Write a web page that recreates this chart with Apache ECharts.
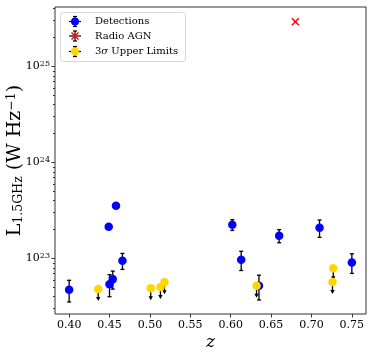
<!DOCTYPE html>
<html>
<head>
<meta charset="utf-8">
<script src="https://cdn.jsdelivr.net/npm/echarts@6/dist/echarts.min.js"></script>
<style>
  html, body { margin: 0; padding: 0; background: #fff; }
  #chart { width: 374px; height: 357px; }
</style>
</head>
<body>
<div id="chart"></div>
<script>
  // detections: redshift, luminosity (W/Hz), 1-sigma error
  const detZ = [0.400, 0.449, 0.458, 0.466, 0.454, 0.450, 0.602, 0.613, 0.635, 0.660, 0.710, 0.750];
  const detL = [4.73e22, 2.14e23, 3.55e23, 9.5e22, 6.1e22, 5.4e22, 2.25e23, 9.7e22, 5.2e22, 1.73e23, 2.09e23, 9.1e22];
  const detErr = [1.2e22, 1.2e22, 2.0e22, 1.8e22, 1.3e22, 1.4e22, 2.9e22, 2.2e22, 1.5e22, 2.7e22, 4.3e22, 2.1e22];

  // 3 sigma upper limits
  const ulZ = [0.436, 0.501, 0.513, 0.518, 0.632, 0.727, 0.726];
  const ulL = [4.8e22, 4.9e22, 5.05e22, 5.65e22, 5.2e22, 7.9e22, 5.7e22];

  // radio AGN
  const agnZ = [0.680];
  const agnL = [2.93e25];

  const xTicks = [0.40, 0.45, 0.50, 0.55, 0.60, 0.65, 0.70, 0.75];
  const yTicks = [1e23, 1e24, 1e25];
  const yMinor = [];
  [22, 23, 24, 25].forEach(function (e) {
    for (let m = 2; m <= 9; m++) yMinor.push(m * Math.pow(10, e));
  });

  const FONT = 'DejaVu Serif';
  const chart = echarts.init(document.getElementById('chart'), null, { renderer: 'canvas' });

  const yMin = Math.pow(10, 22.422);
  const yMax = Math.pow(10, 25.62);

  function errorBars(params, api) {
    const x = api.value(0), y = api.value(1), e = api.value(2);
    const top = api.coord([x, y + e]);
    const bot = api.coord([x, y - e]);
    const st = { stroke: '#000', lineWidth: 1.3 };
    return {
      type: 'group',
      children: [
        { type: 'line', shape: { x1: top[0], y1: top[1], x2: bot[0], y2: bot[1] }, style: st },
        { type: 'line', shape: { x1: top[0] - 2, y1: top[1], x2: top[0] + 2, y2: top[1] }, style: st },
        { type: 'line', shape: { x1: bot[0] - 2, y1: bot[1], x2: bot[0] + 2, y2: bot[1] }, style: st }
      ]
    };
  }

  function limitArrows(params, api) {
    const p = api.coord([api.value(0), api.value(1)]);
    const st = { stroke: '#000', lineWidth: 1.3 };
    return {
      type: 'group',
      children: [
        { type: 'line', shape: { x1: p[0], y1: p[1], x2: p[0], y2: p[1] + 9 }, style: st },
        { type: 'polygon', shape: { points: [[p[0] - 2.2, p[1] + 8], [p[0] + 2.2, p[1] + 8], [p[0], p[1] + 12]] }, style: { fill: '#000' } }
      ]
    };
  }

  function cross(params, api) {
    const p = api.coord([api.value(0), api.value(1)]);
    const r = 3.5;
    const st = { stroke: '#ff0000', lineWidth: 1.5 };
    return {
      type: 'group',
      children: [
        { type: 'line', shape: { x1: p[0] - r, y1: p[1] - r, x2: p[0] + r, y2: p[1] + r }, style: st },
        { type: 'line', shape: { x1: p[0] - r, y1: p[1] + r, x2: p[0] + r, y2: p[1] - r }, style: st }
      ]
    };
  }

  // legend drawn by hand (errorbar style handles)
  function legendHandle(cx, cy, mark) {
    const st = { stroke: '#000', lineWidth: 1.2 };
    const items = [
      { type: 'line', shape: { x1: cx - 6, y1: cy, x2: cx + 6, y2: cy }, style: st },
      { type: 'line', shape: { x1: cx, y1: cy - 5, x2: cx, y2: cy + 5 }, style: st },
      { type: 'line', shape: { x1: cx - 2, y1: cy - 5, x2: cx + 2, y2: cy - 5 }, style: st },
      { type: 'line', shape: { x1: cx - 2, y1: cy + 5, x2: cx + 2, y2: cy + 5 }, style: st }
    ];
    if (mark === 'x') {
      const r = 3.5, s2 = { stroke: '#ff0000', lineWidth: 1.5 };
      items.push({ type: 'line', shape: { x1: cx - r, y1: cy - r, x2: cx + r, y2: cy + r }, style: s2 });
      items.push({ type: 'line', shape: { x1: cx - r, y1: cy + r, x2: cx + r, y2: cy - r }, style: s2 });
    } else {
      items.push({ type: 'circle', shape: { cx: cx, cy: cy, r: 4 }, style: { fill: mark } });
    }
    return items;
  }

  const legendRows = [
    { y: 21.5, mark: '#0000ff', text: '{n|Detections}' },
    { y: 36, mark: 'x', text: '{n|Radio AGN}' },
    { y: 51.5, mark: '#ffd700', text: '{n|3}{i|σ}{n| Upper Limits}' }
  ];
  const legendEls = [{
    type: 'rect', shape: { x: 60.5, y: 12.5, width: 125, height: 49, r: 3 },
    style: { fill: 'rgba(255,255,255,0.8)', stroke: '#d6d6d6', lineWidth: 1 }
  }];
  legendRows.forEach(function (row) {
    legendEls.push.apply(legendEls, legendHandle(75, row.y, row.mark));
    legendEls.push({
      type: 'text', x: 95, y: row.y,
      style: {
        text: row.text, verticalAlign: 'middle', fill: '#000',
        rich: {
          n: { fontFamily: FONT, fontSize: 10, fill: '#000' },
          i: { fontFamily: FONT, fontSize: 10, fontStyle: 'italic', fill: '#000' }
        }
      }
    });
  });

  const option = {
    animation: false,
    grid: {
      left: 55, right: 8, top: 7, bottom: 43, outerBoundsMode: 'none', containLabel: false,
      show: true, borderColor: '#333', borderWidth: 1, backgroundColor: 'transparent'
    },
    xAxis: {
      type: 'value', min: 0.3825, max: 0.7675,
      name: 'z', nameLocation: 'middle', nameGap: 20, nameMoveOverlap: false,
      nameTextStyle: { fontFamily: FONT, fontSize: 17, fontStyle: 'italic', color: '#000' },
      axisLine: { show: false },
      axisTick: { show: true, inside: false, length: 3.5, customValues: xTicks, lineStyle: { color: '#333' } },
      axisLabel: { customValues: xTicks, margin: 6, fontFamily: FONT, fontSize: 11, color: '#000', formatter: function (v) { return v.toFixed(2); } },
      splitLine: { show: false }
    },
    yAxis: [{
      type: 'log', min: yMin, max: yMax,
      name: '{m|L}{sub|1.5GHz}{m| (W Hz}{sup|−1}{m|)}', nameLocation: 'middle', nameGap: 30, nameRotate: 90,
      nameMoveOverlap: false,
      nameTextStyle: {
        color: '#000',
        rich: {
          m: { fontFamily: FONT, fontSize: 19, color: '#000' },
          sub: { fontFamily: FONT, fontSize: 12.5, color: '#000', verticalAlign: 'bottom', padding: [7, 0, 0, 0] },
          sup: { fontFamily: FONT, fontSize: 12.5, color: '#000', verticalAlign: 'top', padding: [0, 0, 7, 0] }
        }
      },
      axisLine: { show: false },
      axisTick: { show: true, inside: false, length: 3.5, customValues: yTicks, lineStyle: { color: '#333' } },
      axisLabel: {
        customValues: yTicks, margin: 5, color: '#000',
        formatter: function (v) { return '{b|10}{s|' + Math.round(Math.log10(v)) + '}'; },
        rich: {
          b: { fontFamily: FONT, fontSize: 11, color: '#000' },
          s: { fontFamily: FONT, fontSize: 8, color: '#000', verticalAlign: 'top', padding: [0, 0, 6, 0] }
        }
      },
      splitLine: { show: false }
    }, {
      type: 'log', min: yMin, max: yMax, position: 'left',
      axisLine: { show: false },
      axisTick: { show: true, inside: false, length: 2, customValues: yMinor, lineStyle: { color: '#333' } },
      axisLabel: { show: false },
      splitLine: { show: false }
    }],
    graphic: legendEls,
    series: [
      {
        type: 'custom', renderItem: errorBars, z: 2,
        data: detZ.map(function (z, i) { return [z, detL[i], detErr[i]]; }),
        encode: { x: 0, y: 1 }
      },
      {
        type: 'scatter', symbol: 'circle', symbolSize: 8.5, z: 3,
        itemStyle: { color: '#0000ff', opacity: 1 },
        data: detZ.map(function (z, i) { return [z, detL[i]]; })
      },
      {
        type: 'custom', renderItem: limitArrows, z: 4,
        data: ulZ.map(function (z, i) { return [z, ulL[i]]; }),
        encode: { x: 0, y: 1 }
      },
      {
        type: 'scatter', symbol: 'circle', symbolSize: 8.5, z: 5,
        itemStyle: { color: '#ffd700', opacity: 1 },
        data: ulZ.map(function (z, i) { return [z, ulL[i]]; })
      },
      {
        type: 'custom', renderItem: cross, z: 6,
        data: agnZ.map(function (z, i) { return [z, agnL[i]]; }),
        encode: { x: 0, y: 1 }
      }
    ]
  };
  chart.setOption(option);
</script>
</body>
</html>
